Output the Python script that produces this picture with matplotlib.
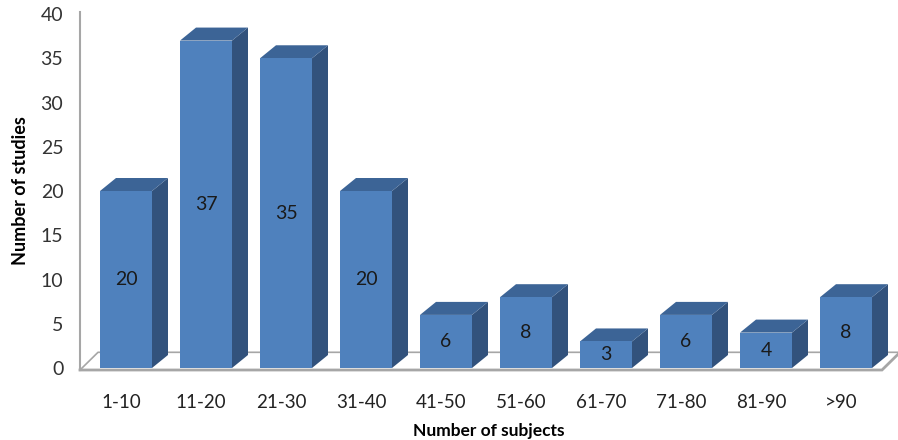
import matplotlib
matplotlib.use("Agg")
import matplotlib.pyplot as plt
from matplotlib.patches import Polygon

plt.rcParams['font.family'] = ['Lato', 'DejaVu Sans']

# studies grouped by number of subjects
categories = ['1-10', '11-20', '21-30', '31-40', '41-50', '51-60',
              '61-70', '71-80', '81-90', '>90']
studies = [20, 37, 35, 20, 6, 8, 3, 6, 4, 8]

front_col = '#4f81bd'
top_col = '#3c6496'
side_col = '#32527c'
grid_col = '#a6a6a6'

half_w = 0.325   # half width of the front face (category units)
dx, dy = 0.2, 1.47   # depth offset of the 3d box

fig = plt.figure(figsize=(8.98, 4.40), dpi=100)
ax = fig.add_axes([80 / 898, 70 / 440, 818 / 898, 358 / 440])
ax.set_xlim(-0.575, 9.65)
ax.set_ylim(-0.226, 40.23)

# floor plate
fdx, fdy = 0.225, 2.0
x0, x1 = -0.575, 9.45
y0 = -0.226
ax.plot([x0, x1, x1 + fdx], [y0, y0, y0 + fdy], color=grid_col, lw=2.0,
        clip_on=False, zorder=1, solid_joinstyle='miter')
ax.plot([x0, x0 + fdx, x1 + fdx + 0.3], [y0, y0 + fdy, y0 + fdy], color=grid_col,
        lw=1.2, clip_on=False, zorder=1)

for i, v in enumerate(studies):
    xl, xr = i - half_w, i + half_w
    front = [(xl, 0), (xr, 0), (xr, v), (xl, v)]
    top = [(xl, v), (xr, v), (xr + dx, v + dy), (xl + dx, v + dy)]
    side = [(xr, 0), (xr + dx, dy), (xr + dx, v + dy), (xr, v)]
    ax.add_patch(Polygon(side, closed=True, fc=side_col, ec='none', zorder=2))
    ax.add_patch(Polygon(top, closed=True, fc=top_col, ec='none', zorder=2))
    ax.add_patch(Polygon(front, closed=True, fc=front_col, ec='none', zorder=3))
    ax.text(i, v / 2, str(v), ha='center', va='center', fontsize=14,
            color='#1a1a1a', zorder=4)

for s in ['top', 'right', 'bottom']:
    ax.spines[s].set_visible(False)
ax.spines['left'].set_color(grid_col)
ax.spines['left'].set_linewidth(1.5)

ax.set_yticks(range(0, 41, 5))
ax.tick_params(axis='y', length=0, pad=12, labelsize=14, labelcolor='#333333')
ax.set_xticks([i - 0.06 for i in range(len(categories))])
ax.set_xticklabels(categories)
ax.tick_params(axis='x', length=0, pad=17, labelsize=13.5, labelcolor='#222222')

ax.set_ylabel('Number of studies', fontsize=13, fontweight='bold', labelpad=8)
ax.set_xlabel('Number of subjects', fontsize=12.5, fontweight='bold', labelpad=9)

fig.savefig('out.png', dpi=100)
